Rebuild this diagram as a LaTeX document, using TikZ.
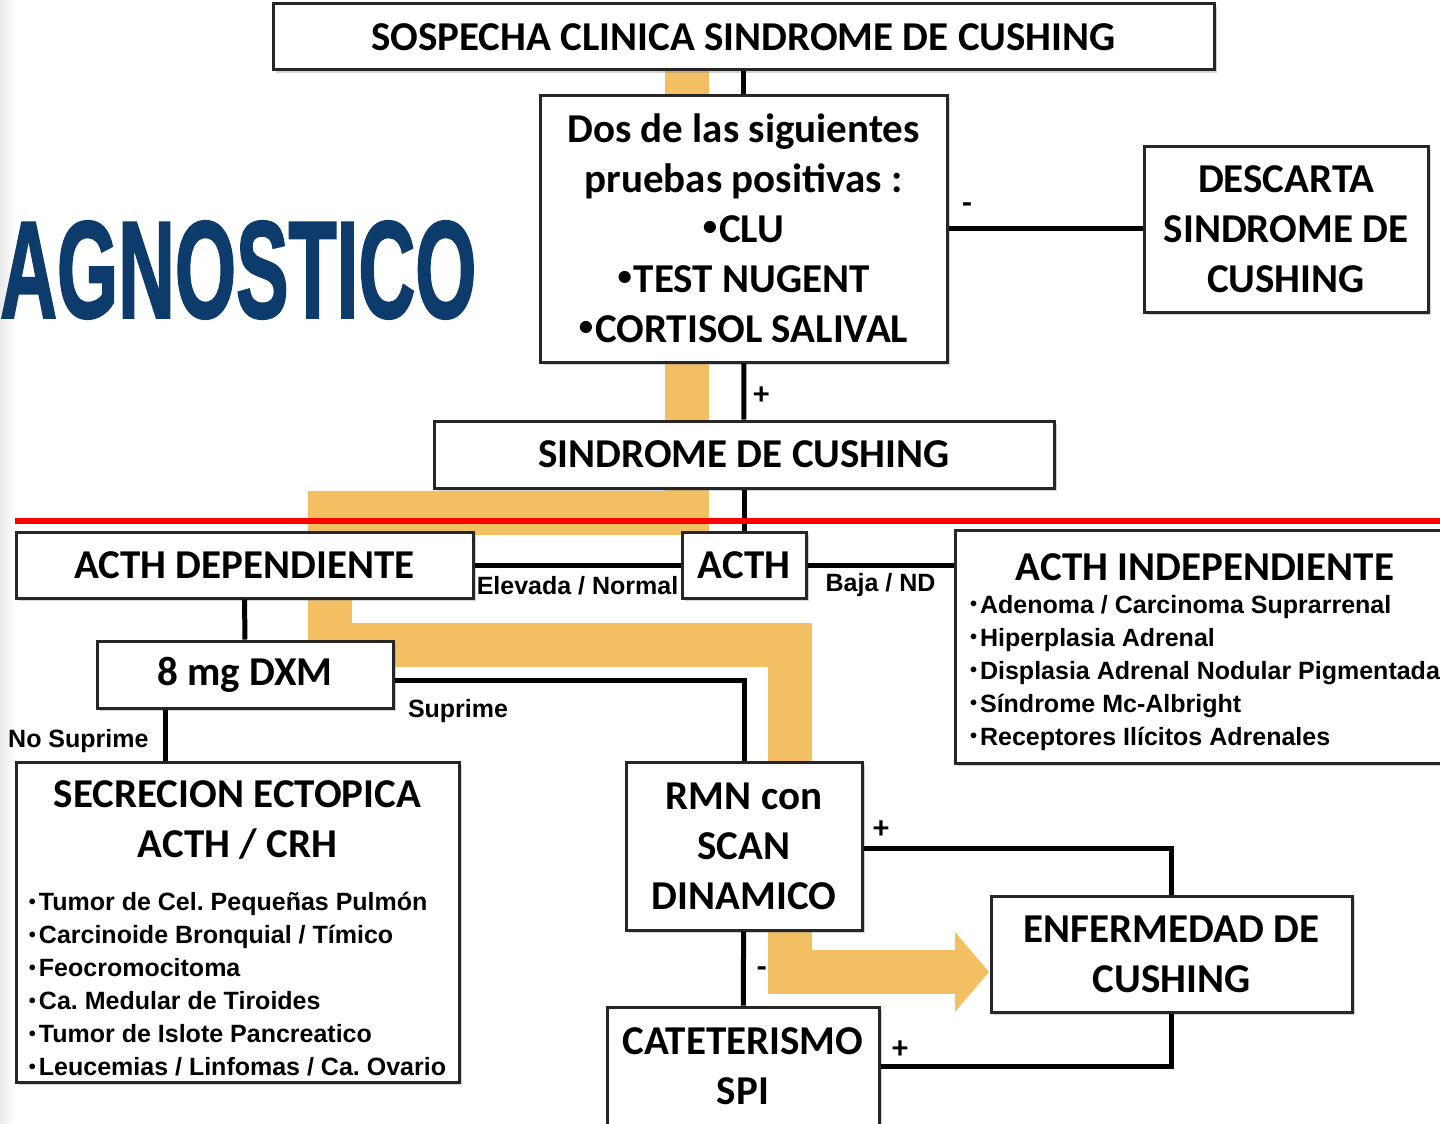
\documentclass[tikz,border=0pt]{standalone}
\usepackage{fontspec}
\setmainfont{Carlito}
\newfontfamily\listfont{Liberation Sans}
\newfontfamily\headfont[BoldFeatures={FakeBold=2}]{Liberation Sans}
\usepackage{graphicx}
\usepackage{tikz}
\usetikzlibrary{positioning, shadows, backgrounds}

\definecolor{routeorange}{HTML}{F2C062}
\definecolor{titleblue}{HTML}{0C3B6C}

\newcommand{\boxtxt}{\rmfamily\bfseries\fontsize{41}{50}\selectfont}
\newcommand{\listtxt}{\listfont\bfseries\fontsize{25}{33}\selectfont\frenchspacing}
\newcommand{\signtxt}{\rmfamily\bfseries\fontsize{32}{32}\selectfont}
\newcommand{\bigdot}{\raisebox{0.35ex}{\scalebox{0.7}{\textbullet}}\hspace{2pt}}
\newcommand{\smalldot}{\raisebox{0.2ex}{\scalebox{0.8}{\textbullet}}\hspace{3pt}}

\tikzstyle{box} = [rectangle, draw=black!85, line width=3pt, fill=white, drop shadow={shadow xshift=3pt, shadow yshift=-3pt, opacity=0.35}, font=\boxtxt, align=center, inner sep=0pt]
\tikzstyle{link} = [draw=black, line width=5pt]
\tikzstyle{route} = [draw=routeorange, line width=44pt]
\tikzstyle{tag} = [font=\listtxt, inner sep=3pt]
\tikzstyle{sign} = [font=\signtxt, inner sep=3pt]

\begin{document}
\begin{tikzpicture}[x=1pt, y=1pt]
  \useasboundingbox (0,0) rectangle (1440,-1124);

  % titulo
  \node (titulo) [anchor=west, text=titleblue, inner sep=0pt] at (0,-270) {\resizebox{476pt}{96pt}{\headfont\bfseries AGNOSTICO}};

  % cajas
  \node (sosp) [box, minimum width=941pt, minimum height=66pt] at (743.5,-37) {SOSPECHA CLINICA SINDROME DE CUSHING};
  \node (dos) [box, minimum width=407pt, minimum height=267pt] at (743.5,-228.5) {Dos de las siguientes\\pruebas positivas :\\\bigdot CLU\\\bigdot TEST NUGENT\\\bigdot CORTISOL SALIVAL};
  \node (desc) [box, minimum width=284pt, minimum height=166pt] at (1286,-229) {DESCARTA\\SINDROME DE\\CUSHING};
  \node (sind) [box, minimum width=620pt, minimum height=67pt] at (744,-454.5) {SINDROME DE CUSHING};
  \node (acth) [box, minimum width=124pt, minimum height=66pt] at (744,-565) {ACTH};
  \node (dep) [box, minimum width=457pt, minimum height=66pt] at (244.5,-565) {ACTH DEPENDIENTE};
  \node (indep) [box, minimum width=500pt, minimum height=233pt] at (1205,-646.5) {\raisebox{-8pt}[\height][\depth]{\listtxt\begin{tabular}{@{}l@{}}
      \multicolumn{1}{@{}c@{}}{\boxtxt ACTH INDEPENDIENTE}\\[0pt]
      \smalldot Adenoma / Carcinoma Suprarrenal\\
      \smalldot Hiperplasia Adrenal\\
      \smalldot Displasia Adrenal Nodular Pigmentada\\
      \smalldot Síndrome Mc-Albright\\
      \smalldot Receptores Ilícitos Adrenales
    \end{tabular}}};
  \node (dxm) [box, minimum width=296pt, minimum height=67pt] at (245,-674.5) {8 mg DXM};
  \node (ecto) [box, minimum width=443pt, minimum height=320pt] at (237.5,-922) {\raisebox{-11pt}[\height][\depth]{\listtxt\begin{tabular}{@{}l@{}}
      \multicolumn{1}{@{}c@{}}{\boxtxt SECRECION ECTOPICA}\\[12pt]
      \multicolumn{1}{@{}c@{}}{\boxtxt ACTH / CRH}\\[20pt]
      \smalldot Tumor de Cel. Pequeñas Pulmón\\
      \smalldot Carcinoide Bronquial / Tímico\\
      \smalldot Feocromocitoma\\
      \smalldot Ca. Medular de Tiroides\\
      \smalldot Tumor de Islote Pancreatico\\
      \smalldot Leucemias / Linfomas / Ca. Ovario
    \end{tabular}}};
  \node (rmn) [box, minimum width=236pt, minimum height=168pt] at (744,-846) {RMN con\\SCAN\\DINAMICO};
  \node (enf) [box, minimum width=361pt, minimum height=116pt] at (1171.5,-954) {ENFERMEDAD DE\\CUSHING};
  \node (cat) [box, minimum width=272pt, minimum height=118pt] at (743,-1066) {CATETERISMO\\SPI};

  % ruta naranja
  \begin{scope}[on background layer]
    \shade[left color=black!8, right color=white] (0,0) rectangle (15,-1124);
    \draw[route] (687,-40) -- (687,-513) -- (330,-513) -- (330,-645) -- (790,-645) -- (790,-972) -- (956,-972);
    \fill[routeorange] (955,-932) -- (989,-972) -- (955,-1012) -- cycle;
  \end{scope}

  % conectores
  \draw[link] (sosp) -- (dos);
  \draw[link] (dos.east) -- (dos.east -| desc.west) node[sign, pos=0, above right, xshift=8pt, yshift=10pt] {-};
  \draw[link] (dos) -- (sind) node[sign, midway, right, xshift=4pt, yshift=-4pt] {+};
  \draw[link] (sind) -- (acth);
  \draw[link] (acth) -- (dep) node[tag, midway, below, yshift=-6pt] {Elevada / Normal};
  \draw[link] (acth) -- (indep.west |- acth) node[tag, midway, below, yshift=-3pt] {Baja / ND};
  \draw[link] (dep) -- (dxm);
  \draw[link] ([xshift=-80pt]dxm.south) -- ([xshift=-80pt]dxm.south |- ecto.north) node[tag, midway, left, xshift=-11pt, yshift=-6pt] {No Suprime};
  \draw[link] ([yshift=-6pt]dxm.east) -| (rmn.north) node[tag, pos=0, anchor=north west, xshift=8pt, yshift=-13pt] {Suprime};
  \draw[link] ([yshift=-2pt]rmn.east) -| (enf.north) node[sign, pos=0, above right, xshift=4pt, yshift=4pt] {+};
  \draw[link] (rmn) -- (cat) node[sign, midway, right, xshift=8pt, yshift=-4pt] {-};
  \draw[link] (cat.east) -| (enf.south) node[sign, pos=0, above right, xshift=6pt, yshift=2pt] {+};

  % linea roja
  \draw[red, line width=6pt] (15,-521) -- (1440,-521);
\end{tikzpicture}
\end{document}
